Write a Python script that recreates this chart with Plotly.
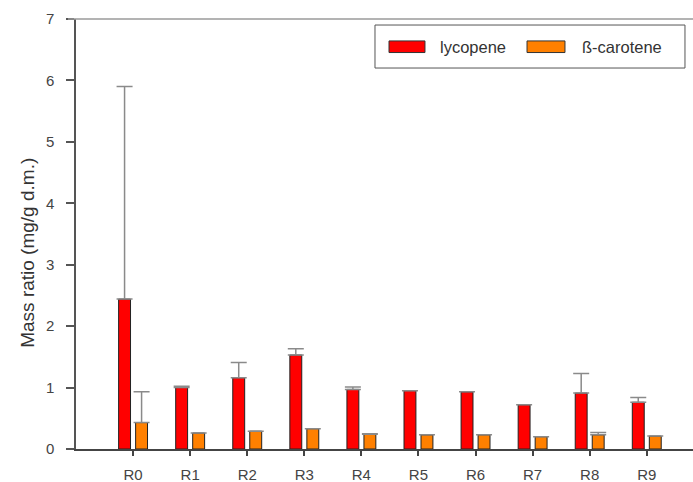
import plotly.graph_objects as go

# Samples and measured pigment contents (mg/g dry matter); None = no error bar drawn
samples = ["R0", "R1", "R2", "R3", "R4", "R5", "R6", "R7", "R8", "R9"]
lycopene = [2.44, 1.00, 1.16, 1.53, 0.97, 0.95, 0.93, 0.72, 0.91, 0.76]
lycopene_err = [3.46, 0.02, 0.25, 0.10, 0.04, None, None, None, 0.32, 0.08]
carotene = [0.43, 0.26, 0.29, 0.33, 0.24, 0.23, 0.23, 0.20, 0.23, 0.21]
carotene_err = [0.50, None, None, None, 0.01, None, None, None, 0.04, None]
y_ticks = [0, 1, 2, 3, 4, 5, 6, 7]

RED = "#FF0000"
ORANGE = "#FF8000"
ERR = "#8a8a8a"
FONT = "Liberation Sans, Arial, sans-serif"

fig = go.Figure()
fig.add_trace(go.Bar(
    name="lycopene", x=samples, y=lycopene,
    marker=dict(color=RED, line=dict(color="#222222", width=1)),
    error_y=dict(type="data", array=lycopene_err, arrayminus=[0] * len(samples),
                 symmetric=False, color=ERR, thickness=1.5, width=8),
))
fig.add_trace(go.Bar(
    name="ß-carotene", x=samples, y=carotene,
    marker=dict(color=ORANGE, line=dict(color="#222222", width=1)),
    error_y=dict(type="data", array=carotene_err, arrayminus=[0] * len(samples),
                 symmetric=False, color=ERR, thickness=1.5, width=8),
))

# Legend drawn as a framed box with wide swatches
legend_shapes = [
    dict(type="rect", xref="paper", yref="paper", x0=0.4846, x1=0.9870, y0=0.886, y1=0.986,
         line=dict(color="#555555", width=1), fillcolor="white"),
    dict(type="rect", xref="paper", yref="paper", x0=0.5073, x1=0.5656, y0=0.922, y1=0.949,
         line=dict(color="#333333", width=1), fillcolor=RED),
    dict(type="rect", xref="paper", yref="paper", x0=0.7310, x1=0.7925, y0=0.922, y1=0.949,
         line=dict(color="#333333", width=1), fillcolor=ORANGE),
    # light frame line along the top of the plot
    dict(type="line", xref="paper", yref="paper", x0=-0.013, x1=1.0, y0=1.0, y1=1.0,
         line=dict(color="#9a9a9a", width=1.5)),
]
legend_labels = [
    dict(text="lycopene", xref="paper", yref="paper", x=0.5867, y=0.936,
         xanchor="left", yanchor="middle", showarrow=False,
         font=dict(family=FONT, size=16.5, color="#333333")),
    dict(text="ß-carotene", xref="paper", yref="paper", x=0.8169, y=0.936,
         xanchor="left", yanchor="middle", showarrow=False,
         font=dict(family=FONT, size=16.5, color="#333333")),
    dict(text="Mass ratio (mg/g d.m.)", xref="paper", yref="paper", x=-0.078, y=0.456,
         xanchor="center", yanchor="middle", textangle=-90, showarrow=False,
         font=dict(family=FONT, size=19, color="#333333")),
]

fig.update_layout(
    width=693, height=482,
    margin=dict(l=76, r=0, t=19, b=33),
    paper_bgcolor="white", plot_bgcolor="white",
    barmode="group", bargap=0.404, bargroupgap=0.3,
    showlegend=False,
    font=dict(family=FONT, size=13, color="#444444"),
    shapes=legend_shapes,
    annotations=legend_labels,
)
fig.update_xaxes(
    range=[-1, 9.81], showgrid=False, zeroline=False,
    showline=True, linecolor="#444444", linewidth=1.5,
    ticks="outside", ticklen=5, tickcolor="#444444", tickwidth=1.5,
    ticklabelstandoff=6,
    tickfont=dict(family=FONT, size=15, color="#444444"),
)
fig.update_yaxes(
    range=[0, 7], tickvals=y_ticks, showgrid=False, zeroline=False,
    showline=True, linecolor="#555555", linewidth=1.5,
    ticks="outside", ticklen=8, tickcolor="#555555", tickwidth=1.5,
    ticklabelstandoff=9,
    tickfont=dict(family=FONT, size=15, color="#444444"),
)

fig.write_html("out.html")
